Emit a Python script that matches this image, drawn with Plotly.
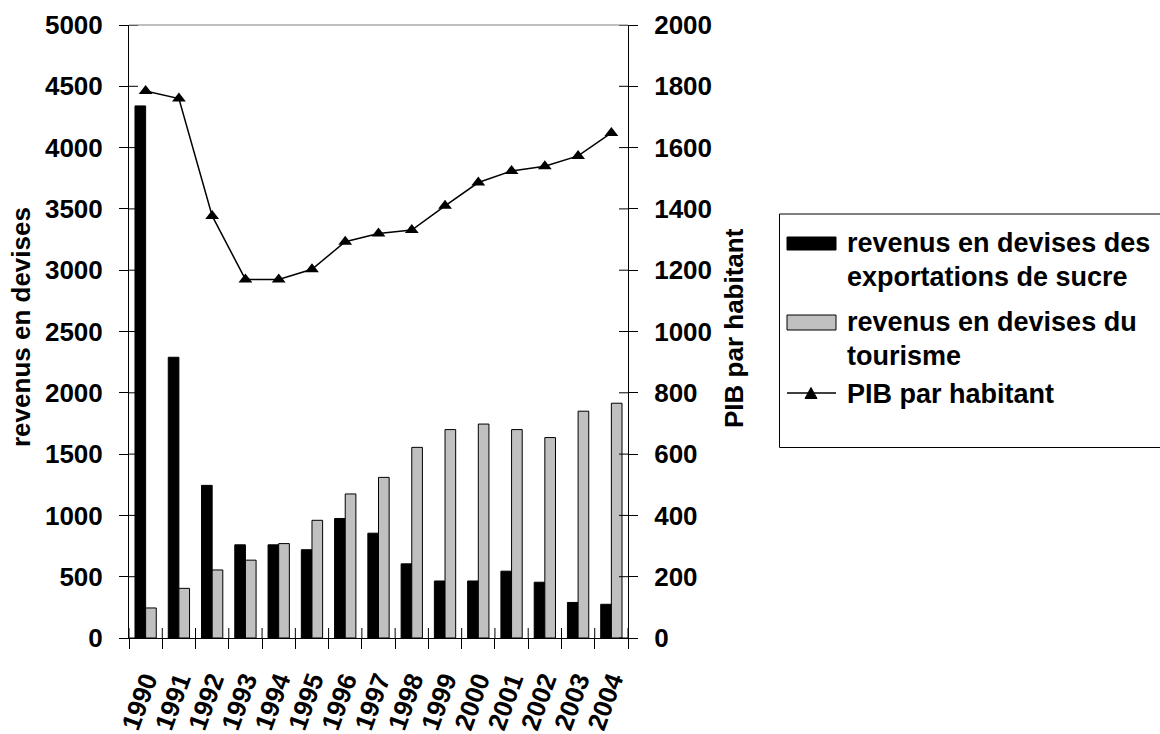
import plotly.graph_objects as go

# Data
years = [str(y) for y in range(1990, 2005)]
sucre = [4340, 2290, 1245, 760, 760, 720, 975, 855, 605, 465, 465, 545, 455, 290, 275]
tourisme = [245, 405, 555, 635, 770, 960, 1175, 1310, 1555, 1700, 1745, 1700, 1635, 1850, 1915]
pib = [1785, 1760, 1377, 1170, 1170, 1203, 1293, 1320, 1331, 1410, 1486, 1524, 1539, 1573, 1648]
left_ticks = list(range(0, 5001, 500))
right_ticks = list(range(0, 2001, 200))

name_sucre = ["revenus en devises des", "exportations de sucre"]
name_tour = ["revenus en devises du", "tourisme"]
name_pib = ["PIB par habitant"]

W, H = 1160, 734
L, R, T, B = 129, 628, 25, 638
FONT = "Liberation Sans, Arial, sans-serif"
FS = 26
TICK_IN = 9  # length of the tick part drawn inside the plot area


def px(x):
    return (x - L) / (R - L)


def py(y):
    return (B - y) / (B - T)


fig = go.Figure()
fig.add_trace(go.Bar(x=years, y=sucre, name=" ".join(name_sucre),
                     marker=dict(color="black", line=dict(color="black", width=1))))
fig.add_trace(go.Bar(x=years, y=tourisme, name=" ".join(name_tour),
                     marker=dict(color="#C0C0C0", line=dict(color="black", width=1))))
fig.add_trace(go.Scatter(x=years, y=pib, name=name_pib[0], yaxis="y2",
                         mode="lines+markers",
                         line=dict(color="black", width=1.5),
                         marker=dict(symbol="triangle-up", size=12, color="black")))

tick_font = dict(family=FONT, size=FS, color="black", weight="bold")

fig.update_layout(
    width=W, height=H,
    margin=dict(l=L, r=W - R, t=T, b=H - B, pad=0),
    paper_bgcolor="white", plot_bgcolor="white",
    showlegend=False,
    barmode="group", bargap=0.36, bargroupgap=0,
    xaxis=dict(type="category", range=[-0.5, 14.5], tickson="boundaries",
               ticks="outside", ticklen=10, tickcolor="black", tickwidth=1,
               showline=True, linecolor="black", linewidth=1,
               tickangle=-70, tickfont=tick_font, ticklabelstandoff=16,
               showgrid=False, zeroline=False, automargin=False),
    yaxis=dict(range=[0, 5000], tickvals=left_ticks, ticks="outside", ticklen=9,
               tickcolor="black", showline=True, linecolor="black", linewidth=1,
               tickfont=tick_font, ticklabelstandoff=11,
               showgrid=False, zeroline=False, automargin=False),
    yaxis2=dict(range=[0, 2000], tickvals=right_ticks, overlaying="y", side="right",
                anchor="x", ticks="outside", ticklen=9, tickcolor="black",
                showline=True, linecolor="black", linewidth=1,
                tickfont=tick_font, ticklabelstandoff=11,
                showgrid=False, zeroline=False, automargin=False),
)

shapes = []
annotations = []

# top border of the plot area
shapes.append(dict(type="line", xref="paper", yref="paper", x0=0, x1=1, y0=1, y1=1,
                   line=dict(color="#808080", width=1)))

# inner halves of the crossing tick marks
tick_line = dict(color="black", width=1)
for v in left_ticks:
    shapes.append(dict(type="line", xref="paper", yref="y", x0=0, x1=TICK_IN / (R - L),
                       y0=v, y1=v, line=tick_line))
for v in right_ticks:
    shapes.append(dict(type="line", xref="paper", yref="y2", x0=1 - TICK_IN / (R - L), x1=1,
                       y0=v, y1=v, line=tick_line))
for i in range(len(years) + 1):
    shapes.append(dict(type="line", xref="x", yref="paper", x0=i - 0.5, x1=i - 0.5,
                       y0=0, y1=10 / (B - T), line=tick_line))

# axis titles
title_font = dict(family=FONT, size=FS, color="black", weight="bold")
legend_font = dict(family=FONT, size=27, color="black", weight="bold")
annotations.append(dict(text="revenus en devises", xref="paper", yref="paper",
                        x=px(21), y=py(327), textangle=-90, showarrow=False,
                        xanchor="center", yanchor="middle", font=title_font))
annotations.append(dict(text="PIB par habitant", xref="paper", yref="paper",
                        x=px(734), y=py(328), textangle=-90, showarrow=False,
                        xanchor="center", yanchor="middle", font=title_font))

# legend box
shapes.append(dict(type="rect", xref="paper", yref="paper",
                   x0=px(779.5), x1=px(1175), y0=py(214), y1=py(447.5),
                   line=dict(color="black", width=1), fillcolor="white", layer="below"))
# swatches
shapes.append(dict(type="rect", xref="paper", yref="paper",
                   x0=px(787), x1=px(836), y0=py(237), y1=py(250),
                   line=dict(color="black", width=1), fillcolor="black"))
shapes.append(dict(type="rect", xref="paper", yref="paper",
                   x0=px(787), x1=px(836), y0=py(315), y1=py(330),
                   line=dict(color="black", width=1), fillcolor="#C0C0C0"))
shapes.append(dict(type="line", xref="paper", yref="paper",
                   x0=px(787), x1=px(836), y0=py(393), y1=py(393),
                   line=dict(color="black", width=1.5)))
tri = "M {:.5f} {:.5f} L {:.5f} {:.5f} L {:.5f} {:.5f} Z".format(
    px(805), py(398.5), px(817), py(398.5), px(811), py(387.5))
shapes.append(dict(type="path", xref="paper", yref="paper", path=tri,
                   fillcolor="black", line=dict(color="black", width=1)))

legend_lines = [
    (name_sucre[0], 243), (name_sucre[1], 277),
    (name_tour[0], 322), (name_tour[1], 356),
    (name_pib[0], 394),
]
for txt, yy in legend_lines:
    annotations.append(dict(text=txt, xref="paper", yref="paper", x=px(845), y=py(yy),
                            xanchor="left", yanchor="middle", showarrow=False,
                            font=legend_font))

fig.update_layout(shapes=shapes, annotations=annotations)

fig.write_html("out.html")
